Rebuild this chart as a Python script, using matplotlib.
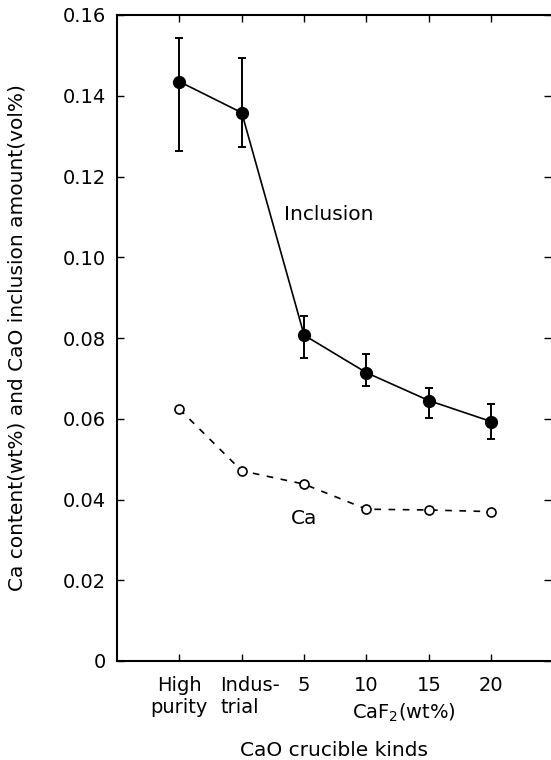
import numpy as np
import matplotlib.pyplot as plt
import matplotlib.transforms as mtransforms

plt.rcParams['font.family'] = ['DejaVu Sans']

# crucible kinds on the x axis
kinds = ["High\npurity", "Indus-\ntrial", "5", "10", "15", "20"]
xpos = np.arange(1, len(kinds) + 1)

# CaO inclusion amount (vol%) with error bar limits
inclusion = [0.1435, 0.1358, 0.0807, 0.0714, 0.0645, 0.0593]
incl_hi = [0.1542, 0.1493, 0.0855, 0.0760, 0.0675, 0.0636]
incl_lo = [0.1264, 0.1274, 0.0750, 0.0681, 0.0601, 0.0550]

# Ca content (wt%)
ca = [0.0624, 0.0471, 0.0438, 0.0376, 0.0374, 0.0370]

inclusion = np.array(inclusion)
yerr = [inclusion - np.array(incl_lo), np.array(incl_hi) - inclusion]

fig = plt.figure(figsize=(5.51, 7.60), dpi=100)
ax = fig.add_axes([117 / 551, 99 / 760, 433.5 / 551, 646 / 760])

ax.errorbar(xpos, inclusion, yerr=yerr, fmt='-o', color='black',
            ms=8.5, lw=1.2, elinewidth=1.4, capsize=2.8, capthick=1.4)
ax.plot(xpos, ca, linestyle=(0, (4, 4.5)), marker='o', color='black',
        ms=6.5, mfc='white', mew=1.2, lw=1.2)

ax.text(2.67, 0.1105, "Inclusion", fontsize=14.5, va='center', ha='left')
ax.text(2.78, 0.0354, "Ca", fontsize=14.5, va='center', ha='left')

ax.set_xlim(0, 6.95)
ax.set_ylim(0, 0.16)
ax.set_yticks(np.arange(0, 0.161, 0.02))
ax.set_yticklabels(["0"] + [f"{v:.2f}" for v in np.arange(0.02, 0.161, 0.02)])
ax.set_xticks(xpos)
ax.set_xticklabels(kinds)
ax.tick_params(direction='in', top=True, right=True, length=5, width=1,
               labelsize=14)
ax.tick_params(axis='x', pad=11)
ax.tick_params(axis='y', pad=8)

# nudge the two-line labels apart a little
labs = ax.get_xticklabels()
labs[0].set_multialignment('center')
labs[1].set_multialignment('left')
shift = mtransforms.ScaledTranslation(6 / 72, 0, fig.dpi_scale_trans)
labs[1].set_transform(labs[1].get_transform() + shift)

ax.spines['right'].set_visible(False)
for s in ['left', 'bottom', 'top']:
    ax.spines[s].set_linewidth(1.5)

ax.text(4.6, -0.0128, "CaF$_2$(wt%)", fontsize=14, ha='center', va='center')
ax.set_xlabel("CaO crucible kinds", fontsize=14.5, labelpad=17)
ax.set_ylabel("Ca content(wt%) and CaO inclusion amount(vol%)", fontsize=14.5,
              labelpad=26)

fig.savefig("out.png", dpi=100)
